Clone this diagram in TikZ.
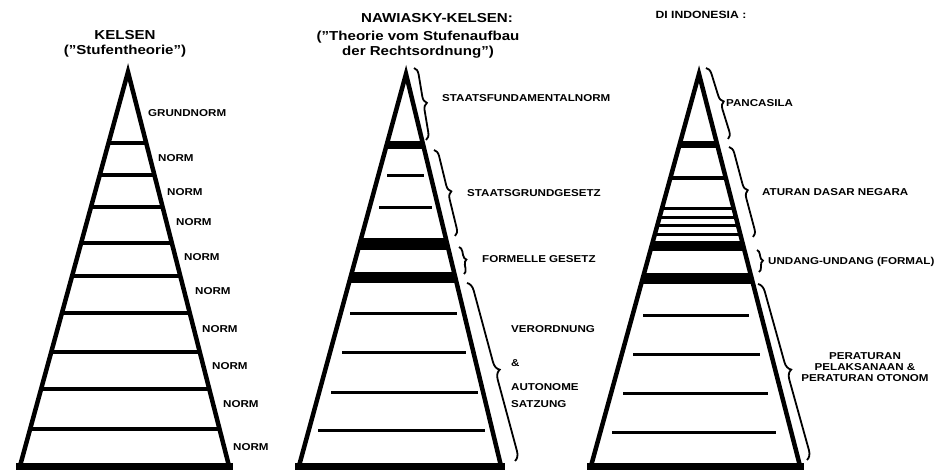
\documentclass[tikz,border=0pt]{standalone}
\usepackage{fontspec}
\setmainfont{Liberation Sans}[FakeStretch=1.16]
\usetikzlibrary{calc,decorations.pathreplacing}
\tikzset{
  edge/.style={line width=4.5pt,line join=miter},
  bar/.style={line width=3.5pt},
  lab/.style={font=\fontsize{10}{11.3}\selectfont\bfseries,inner sep=0pt,anchor=west},
  ttl/.style={font=\fontsize{13}{15}\selectfont\bfseries,inner sep=0pt,align=center},
  brc/.style={decorate,decoration={brace,amplitude=#1},line width=1.8pt},
  brc/.default=7pt
}
\begin{document}
\begin{tikzpicture}[x=1pt,y=-1pt]
\useasboundingbox (0,0) rectangle (941,470);
% Kelsen
\coordinate (K-t) at (128,72); \coordinate (K-l) at (20,466); \coordinate (K-r) at (229,466);
\foreach \y in {143,175,207,243,276,313,352,389,429}
  \draw[bar] ($(K-t)!{(\y-72)/394}!(K-l)$) -- ($(K-t)!{(\y-72)/394}!(K-r)$);
\fill ($(K-l)+(-4,-3)$) rectangle ($(K-r)+(4,6)$);
\draw[edge] (K-l) -- (K-t) -- (K-r);
\node[ttl] (k-title) at (125,44) {KELSEN\\("Stufentheorie")};
\node[lab] (k-grund) at (148,113) {GRUNDNORM};
\foreach \x/\y [count=\i] in {158/158,167/192,176/222,184/257,195/291,202/329,212/366,223/404,233/447}
  \node[lab] (k-norm\i) at (\x,\y) {NORM};

% Nawiasky-Kelsen
\coordinate (N-t) at (406,74); \coordinate (N-l) at (299,466); \coordinate (N-r) at (501,466);
\foreach \y/\w in {145/8pt,244/12pt,277.5/11pt}
  \draw[line width=\w] ($(N-t)!{(\y-74)/392}!(N-l)$) -- ($(N-t)!{(\y-74)/392}!(N-r)$);
\foreach \y/\a/\b in {176/387/424,208/379/432,313/350/457,352/342/466,392/331/478,430/318/485}
  \draw[line width=3pt] (\a,\y) -- (\b,\y);
\fill ($(N-l)+(-4,-3)$) rectangle ($(N-r)+(4,6)$);
\draw[edge] (N-l) -- (N-t) -- (N-r);
\node[ttl] (n-title) at (437,18) {NAWIASKY-KELSEN:};
\node[ttl] (n-sub) at (418,45) {("Theorie vom Stufenaufbau\\der Rechtsordnung")};
\coordinate (n-b1a) at (414,68); \coordinate (n-b1b) at (426,140);
\coordinate (n-b2a) at (434,150); \coordinate (n-b2b) at (455,236);
\coordinate (n-b3a) at (459,247); \coordinate (n-b3b) at (464,274);
\coordinate (n-b4a) at (467,283); \coordinate (n-b4b) at (515,461);
\draw[brc] (n-b1a) -- (n-b1b);
\draw[brc] (n-b2a) -- (n-b2b);
\draw[brc=5pt] (n-b3a) -- (n-b3b);
\draw[brc=9pt] (n-b4a) -- (n-b4b);
\node[lab] (n-sfn) at (442,98) {STAATSFUNDAMENTALNORM};
\node[lab] (n-sgg) at (467,193) {STAATSGRUNDGESETZ};
\node[lab] (n-fg) at (482,259) {FORMELLE GESETZ};
\node[lab] (n-vo) at (511,329) {VERORDNUNG};
\node[lab] (n-amp) at (511,363) {\&};
\node[lab] (n-au) at (511,387) {AUTONOME};
\node[lab] (n-sa) at (511,404) {SATZUNG};

% Indonesia
\coordinate (I-t) at (699,74); \coordinate (I-l) at (591,466); \coordinate (I-r) at (800,466);
\foreach \y/\w in {145/7pt,178/3.5pt,209/3pt,218/3pt,226/3pt,235/3pt,246/10pt,278.5/11pt}
  \draw[line width=\w] ($(I-t)!{(\y-74)/392}!(I-l)$) -- ($(I-t)!{(\y-74)/392}!(I-r)$);
\foreach \y/\a/\b in {315/643/749,354/633/760,393/623/768,432/612/776}
  \draw[line width=3pt] (\a,\y) -- (\b,\y);
\fill ($(I-l)+(-4,-3)$) rectangle ($(I-r)+(4,6)$);
\draw[edge] (I-l) -- (I-t) -- (I-r);
\node[font=\fontsize{10.5}{12}\selectfont\bfseries,inner sep=0pt] (i-title) at (701,15) {DI INDONESIA :};
\coordinate (i-b1a) at (706,68); \coordinate (i-b1b) at (728,139);
\coordinate (i-b2a) at (729,147); \coordinate (i-b2b) at (753,237);
\coordinate (i-b3a) at (757,250); \coordinate (i-b3b) at (759,272);
\coordinate (i-b4a) at (758,284); \coordinate (i-b4b) at (807,460);
\draw[brc] (i-b1a) -- (i-b1b);
\draw[brc] (i-b2a) -- (i-b2b);
\draw[brc=5pt] (i-b3a) -- (i-b3b);
\draw[brc=9pt] (i-b4a) -- (i-b4b);
\node[lab] (i-pan) at (726,103) {PANCASILA};
\node[lab] (i-adn) at (762,192) {ATURAN DASAR NEGARA};
\node[lab] (i-uu) at (768,262) {UNDANG-UNDANG (FORMAL)};
\node[lab,anchor=center,align=center] (i-per) at (865,367) {PERATURAN\\PELAKSANAAN \&\\PERATURAN OTONOM};
\end{tikzpicture}
\end{document}
